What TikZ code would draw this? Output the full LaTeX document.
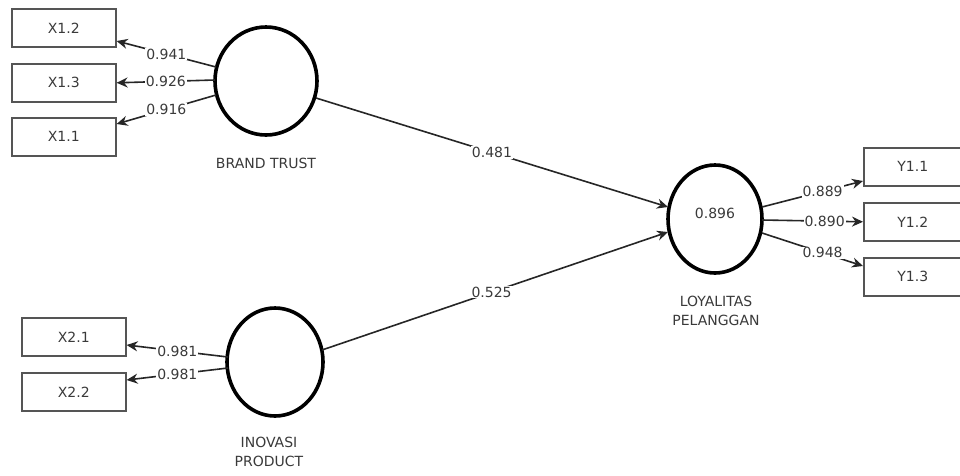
\documentclass[tikz,border=0pt]{standalone}
\usepackage{fontspec}
\setmainfont{DejaVu Sans}
\usetikzlibrary{arrows.meta}
\definecolor{txt}{HTML}{3A3A3A}
\definecolor{boxc}{HTML}{555555}
\tikzset{
  ind/.style={draw=boxc, line width=1.6pt, minimum width=104pt, minimum height=38pt, inner sep=0pt, font=\fontsize{14}{16}\selectfont, text=txt, anchor=north west},
  lbl/.style={font=\fontsize{14}{19}\selectfont, text=txt, align=center},
  wt/.style={font=\fontsize{14}{16}\selectfont, text=txt, fill=white, inner sep=1pt},
  conn/.style={draw=black!85, line width=1.6pt, -{Stealth[length=11pt,width=10pt]}},
  latline/.style={line width=3.6pt},
}
\begin{document}
\begin{tikzpicture}[x=1pt,y=-1pt]
\useasboundingbox (0,0) rectangle (960,475);
\clip (0,0) rectangle (960,475);
\fill[white] (0,0) rectangle (960,475);
% latent variables
\draw[latline] (266,81) ellipse [x radius=51, y radius=54];
\coordinate (bt) at (266,81);
\draw[latline] (275,362) ellipse [x radius=48, y radius=54];
\coordinate (ip) at (275,362);
\draw[latline] (715,219) ellipse [x radius=47, y radius=54];
\coordinate (lp) at (715,219);
\node[lbl] (lpv) at (715,213) {0.896};
\node[lbl] (btl) at (266,163) {BRAND TRUST};
\node[lbl, text width=120pt] (ipl) at (269,452) {INOVASI\\PRODUCT};
\node[lbl, text width=120pt] (lpl) at (716,311) {LOYALITAS\\PELANGGAN};
% indicators
\node[ind] (x12) at (11,8) {X1.2};
\node[ind] (x13) at (11,63) {X1.3};
\node[ind] (x11) at (11,117) {X1.1};
\node[ind] (x21) at (21,317) {X2.1};
\node[ind] (x22) at (21,372) {X2.2};
\node[ind, minimum width=110pt] (y11) at (863,147) {\hspace*{-12pt}Y1.1};
\node[ind, minimum width=110pt] (y12) at (863,202) {\hspace*{-12pt}Y1.2};
\node[ind, minimum width=110pt] (y13) at (863,257) {\hspace*{-12pt}Y1.3};
% anchor points
\coordinate (b1) at (216,67);
\coordinate (b2) at (215,80);
\coordinate (b3) at (216,95);
\coordinate (i1) at (228,357);
\coordinate (i2) at (228,368);
\coordinate (l1) at (762,207);
\coordinate (l2) at (762,220);
\coordinate (l3) at (762,233);
\coordinate (bo) at (316,98);
\coordinate (io) at (322,350);
\coordinate (li1) at (668,207);
\coordinate (li2) at (668,232);
% outer loadings
\draw[conn] (b1) -- node[wt, pos=0.5] {0.941} (x12.east |- 0,41);
\draw[conn] (b2) -- node[wt, pos=0.5] {0.926} (x13.east);
\draw[conn] (b3) -- node[wt, pos=0.5] {0.916} (x11.east |- 0,124);
\draw[conn] (i1) -- node[wt, pos=0.5] {0.981} (x21.east |- 0,345);
\draw[conn] (i2) -- node[wt, pos=0.5] {0.981} (x22.east |- 0,380);
\draw[conn] (l1) -- node[wt, pos=0.6] {0.889} (y11.west |- 0,181);
\draw[conn] (l2) -- node[wt, pos=0.62] {0.890} (y12.west);
\draw[conn] (l3) -- node[wt, pos=0.6] {0.948} (y13.west |- 0,266);
% path coefficients
\draw[conn] (bo) -- node[wt, pos=0.5] {0.481} (li1);
\draw[conn] (io) -- node[wt, pos=0.49] {0.525} (li2);
\end{tikzpicture}
\end{document}
